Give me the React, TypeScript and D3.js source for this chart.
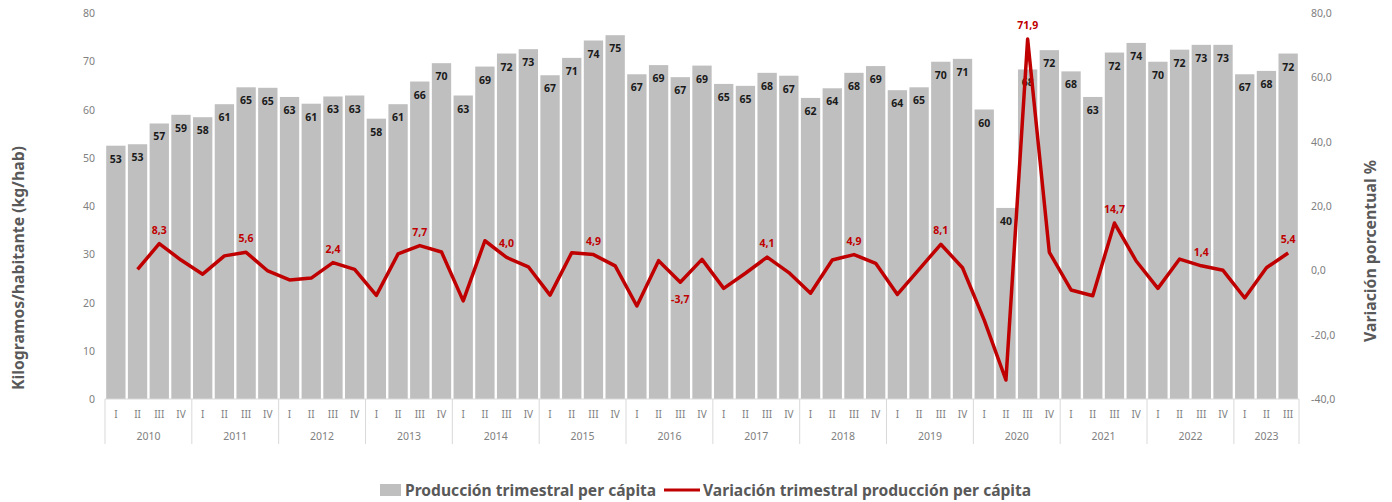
import React from 'react';
import * as d3 from 'd3';

const years = ['2010','2011','2012','2013','2014','2015','2016','2017','2018','2019','2020','2021','2022','2023'];
const quarterNames = ['I','II','III','IV'];
const production = [
  52.5,52.8,57.1,58.9, 58.4,61.1,64.6,64.5, 62.6,61.2,62.7,62.9, 58.1,61.1,65.8,69.6,
  62.9,68.9,71.6,72.5, 67.1,70.7,74.3,75.4, 67.3,69.2,66.7,69.1, 65.3,64.9,67.6,67.0,
  62.4,64.4,67.6,69.0, 64.0,64.6,69.9,70.5, 60.0,39.6,68.3,72.3, 67.9,62.6,71.8,73.8,
  69.9,72.4,73.4,73.4, 67.3,68.0,71.6
];
const variation: (number | null)[] = [
  null,0.3,8.3,3.2, -1.2,4.5,5.6,-0.2, -3.0,-2.4,2.4,0.3, -7.8,5.1,7.7,5.7,
  -9.5,9.2,4.0,1.1, -7.7,5.5,4.9,1.4, -11.1,3.0,-3.7,3.4, -5.6,-0.9,4.1,-0.7,
  -7.1,3.2,4.9,2.2, -7.5,0.3,8.1,0.8, -15.5,-34.1,71.9,5.6, -6.1,-7.9,14.7,2.9,
  -5.6,3.5,1.4,0.0, -8.6,0.8,5.4
];
const leftTicks = [0,10,20,30,40,50,60,70,80];
const rightTicks = [-40,-20,0,20,40,60,80];

const W = 1392, H = 502;
const X0 = 105, X1 = 1299, YTOP = 13, YBOT = 399;

export default function App() {
  const keys = production.map((_, i) => `${years[Math.floor(i / 4)]}-${quarterNames[i % 4]}`);
  const x = d3.scaleBand<string>().domain(keys).range([X0, X1]).paddingInner(0.11).paddingOuter(0.055);
  const yL = d3.scaleLinear().domain([0, 80]).range([YBOT, YTOP]);
  const yR = d3.scaleLinear().domain([-40, 80]).range([YBOT, YTOP]);
  const step = (X1 - X0) / production.length;
  const cx = (i: number) => X0 + step * (i + 0.5);
  const fmt = (v: number) => d3.format('.1f')(v).replace('.', ',').replace('\u2212', '-');
  const line = d3.line<[number, number | null]>()
    .defined(d => d[1] !== null)
    .x(d => cx(d[0]))
    .y(d => yR(d[1] as number));
  const lineData = variation.map((v, i) => [i, v] as [number, number | null]);
  const gray = '#808080';
  const red = '#c00000';
  const font = "'Noto Sans', 'Open Sans', sans-serif";

  return (
    <svg width={W} height={H} style={{ position: 'absolute', left: 0, top: 0, fontFamily: font }}>
      <rect width={W} height={H} fill="#fff" />
      {production.map((v, i) => (
        <rect key={i} x={x(keys[i])} y={yL(v)} width={x.bandwidth()} height={YBOT - yL(v)} fill="#bfbfbf" />
      ))}
      {production.map((v, i) => (
        <text key={'bl' + i} x={cx(i)} y={yL(v) + 17} textAnchor="middle" fontSize={10.5} fontWeight="bold" fill="#1a1a1a">
          {Math.round(v)}
        </text>
      ))}
      <line x1={X0} x2={X1} y1={YBOT} y2={YBOT} stroke="#d9d9d9" strokeWidth={1} />
      {d3.range(0, production.length + 4, 4).map(k => {
        const xx = X0 + step * Math.min(k, production.length);
        return <line key={'sep' + k} x1={xx} x2={xx} y1={YBOT} y2={444} stroke="#d9d9d9" strokeWidth={1} />;
      })}
      {production.map((_, i) => (
        <text key={'q' + i} x={cx(i)} y={418} textAnchor="middle" fontSize={10} fill={gray}>{quarterNames[i % 4]}</text>
      ))}
      {years.map((yr, j) => {
        const first = j * 4;
        const last = Math.min(j * 4 + 4, production.length);
        return (
          <text key={yr} x={X0 + step * (first + last) / 2} y={440} textAnchor="middle" fontSize={10.5} fill={gray}>{yr}</text>
        );
      })}
      {leftTicks.map(t => (
        <text key={'l' + t} x={95} y={yL(t) + 4} textAnchor="end" fontSize={10.5} fill={gray}>{t}</text>
      ))}
      {rightTicks.map(t => (
        <text key={'r' + t} x={1311} y={yR(t) + 4} textAnchor="start" fontSize={10.5} fill={gray}>{fmt(t)}</text>
      ))}
      <path d={line(lineData) || ''} fill="none" stroke={red} strokeWidth={3.5} strokeLinejoin="round" />
      {variation.map((v, i) => {
        if (v === null || i % 4 !== 2) return null;
        const below = v < 0;
        return (
          <text key={'vl' + i} x={cx(i)} y={below ? yR(v) + 21 : yR(v) - 10} textAnchor="middle" fontSize={10.5} fontWeight="bold" fill={red}>
            {fmt(v)}
          </text>
        );
      })}
      <text transform={`translate(24,268) rotate(-90)`} textAnchor="middle" fontSize={15.8} fontWeight="bold" fill="#595959">
        Kilogramos/habitante (kg/hab)
      </text>
      <text transform={`translate(1376,251) rotate(-90)`} textAnchor="middle" fontSize={15.8} fontWeight="bold" fill="#595959">
        Variación porcentual %
      </text>
      <rect x={380} y={484} width={21} height={12} fill="#bfbfbf" />
      <text x={405} y={496} fontSize={15.6} fontWeight="bold" fill="#595959">Producción trimestral per cápita</text>
      <line x1={664} x2={700} y1={490} y2={490} stroke={red} strokeWidth={3} />
      <text x={703} y={496} fontSize={15.6} fontWeight="bold" fill="#595959">Variación trimestral producción per cápita</text>
    </svg>
  );
}
